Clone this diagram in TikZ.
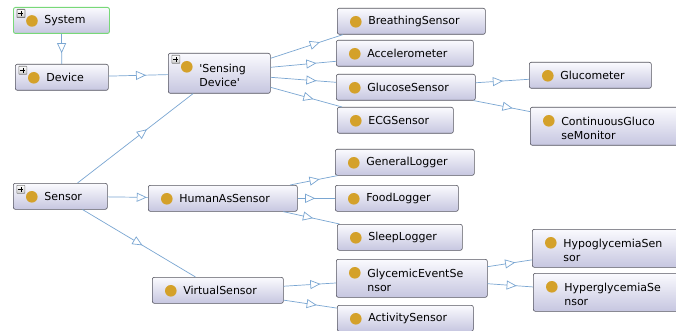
\documentclass[tikz,border=0pt]{standalone}
\usepackage{fontspec}
\setmainfont{DejaVu Sans}
\usetikzlibrary{arrows.meta,decorations.markings}

\definecolor{boxline}{HTML}{55555F}
\definecolor{boxtop}{HTML}{FAFAFE}
\definecolor{boxbot}{HTML}{C6C6E0}
\definecolor{dotgold}{HTML}{D4A12A}
\definecolor{isablue}{HTML}{7AA6D2}
\definecolor{rootgreen}{HTML}{78D878}

% gold class mark and the small expand box
\newcommand{\golddot}{\fill[dotgold] ([shift={(18.5pt,-13.5pt)}]path picture bounding box.north west) circle (5.8pt);}
\newcommand{\plusbox}{%
  \draw[gray, top color=white, bottom color=black!20, rounded corners=0.5pt] ([shift={(3.5pt,-2pt)}]path picture bounding box.north west) rectangle +(8pt,-8pt);
  \draw[black, line width=0.6pt] ([shift={(5pt,-6pt)}]path picture bounding box.north west) -- +(5pt,0pt);
  \draw[black, line width=0.6pt] ([shift={(7.5pt,-3.5pt)}]path picture bounding box.north west) -- +(0pt,-5pt);}

\tikzset{
  cls/.style={draw=boxline, line width=0.6pt, rounded corners=2pt, top color=boxtop, bottom color=boxbot,
    anchor=north west, text width=#1pt, inner xsep=0pt, inner ysep=0pt, minimum height=26pt,
    align=left, font=\fontsize{11}{13.5}\selectfont, execute at begin node={\leftskip=31pt},
    path picture={\golddot}},
  more/.style={path picture={\golddot\plusbox}},
  twoline/.style={minimum height=38pt, text height=12.5pt},
  isa/.style={color=isablue, line width=0.7pt, postaction={decorate},
    decoration={markings, mark=at position #1 with {\arrow{Triangle[length=10pt, width=9pt, fill=white]}}}},
  isa/.default=0.6
}

\begin{document}
\begin{tikzpicture}[x=1pt, y=-1pt]
        \useasboundingbox (0,0) rectangle (676,331);
        \fill[white] (0,0) rectangle (676,331);
        \clip (0,0) rectangle (676,331);

        % Draw the class boxes, left column
        \node[cls=96, more, draw=rootgreen, line width=0.9pt] (system) at (13,7) {System};
        \node[cls=93, more] (device) at (15,64) {Device};
        \node[cls=94, more] (sensor) at (13,183) {Sensor};

        % Draw second column
        \node[cls=102, more, twoline, minimum height=40pt] (sensing) at (168,53) {\textquotesingle Sensing\\Device\textquotesingle};
        \node[cls=149] (human) at (148,185) {HumanAsSensor};
        \node[cls=131] (virtual) at (152,277) {VirtualSensor};

        % Draw third column
        \node[cls=148] (breathing) at (337,8) {BreathingSensor};
        \node[cls=137] (accel) at (336,40) {Accelerometer};
        \node[cls=139] (glucose) at (336,74) {GlucoseSensor};
        \node[cls=116] (ecg) at (337,107) {ECGSensor};
        \node[cls=139] (general) at (335,149) {GeneralLogger};
        \node[cls=123] (food) at (335,185) {FoodLogger};
        \node[cls=125] (sleep) at (337,224) {SleepLogger};
        \node[cls=151, twoline] (glycemic) at (336,259) {GlycemicEventSe\\nsor};
        \node[cls=136] (activity) at (337,305) {ActivitySensor};

        % Draw fourth column (cut at the right edge)
        \node[cls=122] (glucometer) at (529,62) {Glucometer};
        \node[cls=150, twoline] (cgm) at (530,107) {ContinuousGluco\\seMonitor};
        \node[cls=150, twoline] (hypo) at (532,229) {HypoglycemiaSen\\sor};
        \node[cls=150, twoline] (hyper) at (533,273) {HyperglycemiaSe\\nsor};

        % Draw subclass links
        \draw[isa=0.64] (system) -- (device);
        \draw[isa=0.63] (device) -- (sensing);
        \draw[isa] (sensor) -- (sensing);
        \draw[isa=0.97] (sensor) -- (human);
        \draw[isa=0.53] (sensor) -- (virtual);

        % links out of 'Sensing Device'
        \draw[isa=0.68] ([yshift=15pt]sensing.east) -- ([xshift=6pt]breathing.south west);
        \draw[isa=0.7] ([yshift=6pt]sensing.east) -- ([yshift=-8pt]accel.west);
        \draw[isa=0.7] ([yshift=-4pt]sensing.east) -- ([yshift=5pt]glucose.west);
        \draw[isa] ([yshift=-14pt]sensing.east) -- ([xshift=5pt]ecg.north west);

        % links to loggers and virtual sensors
        \draw[isa=0.62] (human) -- (general);
        \draw[isa=0.47] (human) -- (food);
        \draw[isa=0.53] (human) -- (sleep);
        \draw[isa=0.7] (virtual) -- (glycemic);
        \draw[isa=0.62] (virtual) -- (activity);

        % links in the fourth column
        \draw[isa=0.51] (glucose) -- (glucometer);
        \draw[isa=0.69] (glucose) -- (cgm);
        \draw[isa=0.62] (glycemic) -- (hypo);
        \draw[isa=0.64] (glycemic) -- (hyper);
    \end{tikzpicture}
\end{document}
